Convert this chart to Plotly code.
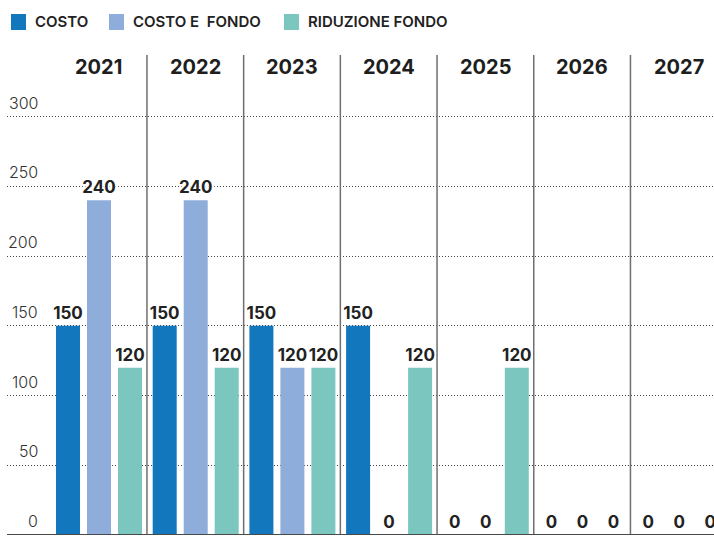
import plotly.graph_objects as go

# Data
years = ["2021", "2022", "2023", "2024", "2025", "2026", "2027"]
costo = [150, 150, 150, 150, 0, 0, 0]
costo_fondo = [240, 240, 120, 0, 0, 0, 0]
riduzione_fondo = [120, 120, 120, 120, 120, 0, 0]
series_names = ["COSTO", "COSTO E  FONDO", "RIDUZIONE FONDO"]
series_colors = ["#1277bd", "#8eaddb", "#7bc6bf"]
y_ticks = [0, 50, 100, 150, 200, 250, 300]

W, H = 714, 550
ML, MR, MT, MB = 7, 0, 55, 15
PW, PH = W - ML - MR, H - MT - MB
CAT_PX = 96.7          # pixel width of one year column
FIRST_CENTER_PX = 98.6  # pixel x of the first column centre
PX_PER_UNIT = 1.3943    # vertical pixels per value unit

x0 = -(FIRST_CENTER_PX - ML) / CAT_PX
x1 = x0 + PW / CAT_PX
y_top = PH / PX_PER_UNIT

def px_x(p):
    return (p - ML) / PW

def px_y(p):
    return (H - MB - p) / PH

FONT = "Inter"
xs = list(range(len(years)))
bar_w = 24 / CAT_PX
step = 31 / CAT_PX
HALO = "0 0 3px #fff, 0 0 3px #fff, 0 0 4px #fff, 0 0 4px #fff"

fig = go.Figure()
for k, (name, vals, col) in enumerate(zip(series_names, [costo, costo_fondo, riduzione_fondo], series_colors)):
    fig.add_trace(go.Bar(
        x=xs, y=vals, name=name,
        marker=dict(color=col, line=dict(width=0)),
        width=bar_w,
        offset=(k - 1) * step - bar_w / 2 + 0.4 / CAT_PX,
        text=[str(v) for v in vals],
        texttemplate="%{text}",
        textposition="outside",
        constraintext="none",
        textfont=dict(family=FONT, size=17, color="#222222", weight="bold", shadow=HALO),
        cliponaxis=False,
        showlegend=False,
        hoverinfo="skip",
    ))

shapes = []
# column separators
for i in range(len(years) - 1):
    shapes.append(dict(type="line", xref="x", yref="paper", x0=i + 0.5, x1=i + 0.5,
                       y0=0, y1=1, line=dict(color="#6f6f6f", width=1.5), layer="above"))
# baseline
shapes.append(dict(type="line", xref="paper", yref="y", x0=0, x1=1, y0=0, y1=0,
                   line=dict(color="#4a4a4a", width=2), layer="above"))

annotations = []
# year headers
for i, yr in enumerate(years):
    annotations.append(dict(x=i, y=px_y(67), xref="x", yref="paper", text=yr,
                            showarrow=False, xanchor="center", yanchor="middle",
                            font=dict(family=FONT, size=20, color="#1e1e1e", weight="bold")))
# value axis labels above the gridlines
for t in y_ticks:
    annotations.append(dict(x=px_x(40), y=t, xref="paper", yref="y", text=str(t),
                            showarrow=False, xanchor="right", yanchor="bottom", yshift=2,
                            font=dict(family=FONT, size=16, color="#333333", weight=300)))

# legend
legend_x = [11, 109, 284]
for name, col, lx in zip(series_names, series_colors, legend_x):
    shapes.append(dict(type="rect", xref="paper", yref="paper",
                       x0=px_x(lx), x1=px_x(lx + 15), y0=px_y(30), y1=px_y(14),
                       fillcolor=col, line=dict(width=0)))
    annotations.append(dict(x=px_x(lx + 22), y=px_y(22), xref="paper", yref="paper",
                            text=name, showarrow=False, xanchor="left", yanchor="middle",
                            font=dict(family=FONT, size=15, color="#222222", weight=600)))

fig.update_layout(
    width=W, height=H,
    margin=dict(l=ML, r=MR, t=MT, b=MB),
    paper_bgcolor="white", plot_bgcolor="white",
    barmode="overlay",
    xaxis=dict(range=[x0, x1], showgrid=False, zeroline=False, showticklabels=False,
               ticks="", fixedrange=True),
    yaxis=dict(range=[0, y_top], tickvals=y_ticks[1:], showticklabels=False,
               showgrid=True, gridcolor="#444444", gridwidth=1, griddash="1px,2px",
               zeroline=False, ticks="", fixedrange=True),
    shapes=shapes,
    annotations=annotations,
    font=dict(family=FONT),
)

fig.write_html("out.html")
